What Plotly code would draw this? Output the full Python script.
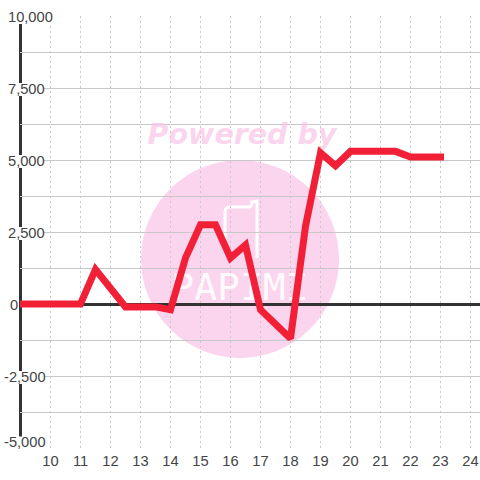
import plotly.graph_objects as go

x_values = [9, 9.5, 10, 10.5, 11, 11.5, 12, 12.5, 13, 13.5, 14, 14.5, 15, 15.5, 16, 16.5, 17, 17.5, 18, 18.5, 19, 19.5, 20, 20.5, 21, 21.5, 22, 22.5, 23]
y_values = [0, 0, 0, 0, 0, 1200, 500, -100, -100, -100, -200, 1600, 2750, 2750, 1600, 2050, -200, -700, -1200, 2700, 5250, 4800, 5300, 5300, 5300, 5300, 5100, 5100, 5100]
x_ticks = list(range(10, 25))
y_major = [-5000, -2500, 0, 2500, 5000, 7500, 10000]
y_labels = ["-5,000", "-2,500", "0", "2,500", "5,000", "7,500", "10,000"]

W = H = 480
L, R, T, B = 20, 0, 16, 32
XMIN = 9 - 0.5 / 30
XMAX = XMIN + (W - L - R) / 30
YMIN, YMAX = -5000, 10000
PX = 15000 / 432

def px_x(p):
    return XMIN + (p - L) / 30
def px_y(p):
    return YMAX - (p - T) * PX
def paper_x(p):
    return (p - L) / (W - L - R)

DARK = "#333333"
GRID = "#c8c8c8"
PINK = "#fbd5ee"

fig = go.Figure()

# watermark text behind the line
fig.add_trace(go.Scatter(x=[px_x(242)], y=[px_y(137)], mode="text", text=["Powered by"],
                         textfont=dict(family="DejaVu Sans", size=28.5, color="rgba(248,195,230,0.7)", weight="bold", style="italic"),
                         hoverinfo="skip", showlegend=False, cliponaxis=False))
fig.add_trace(go.Scatter(x=[px_x(240)], y=[px_y(290)], mode="text", text=["PAPIMI"],
                         textfont=dict(family="DejaVu Sans Mono", size=38, color="rgba(255,255,255,0.9)"),
                         hoverinfo="skip", showlegend=False))
fig.add_trace(go.Scatter(x=x_values, y=y_values, mode="lines",
                         line=dict(color="#f22036", width=7, shape="linear"),
                         hoverinfo="skip", showlegend=False, cliponaxis=False))

path = f"M {px_x(225)} {px_y(240)} L {px_x(225)} {px_y(212)} Q {px_x(225)} {px_y(207)} {px_x(230)} {px_y(207)} L {px_x(249)} {px_y(207)} Q {px_x(252)} {px_y(207)} {px_x(252)} {px_y(202)} L {px_x(257)} {px_y(201)} L {px_x(257)} {px_y(258)}"
shapes = [
    dict(type="circle", xref="x", yref="y", x0=px_x(141), x1=px_x(339), y0=px_y(358), y1=px_y(160),
         fillcolor=PINK, line=dict(width=0), layer="below"),
    dict(type="path", xref="x", yref="y", path=path, line=dict(color="white", width=3), layer="below"),
    dict(type="line", xref="paper", yref="paper", x0=paper_x(20.5), x1=paper_x(20.5), y0=0, y1=1,
         line=dict(color=DARK, width=3), layer="below"),
]
mask_right = {"-5,000": 46, "-2,500": 44, "2,500": 44, "5,000": 44, "7,500": 44, "10,000": 53}
for v, lab in zip(y_major, y_labels):
    if lab in mask_right:
        up = 11.5 if lab == "-5,000" else 5
        shapes.append(dict(type="rect", xref="paper", yref="y", x0=paper_x(0), x1=paper_x(mask_right[lab]),
                           y0=v - 8 * PX, y1=v + up * PX,
                           fillcolor="white", line=dict(width=0), layer="above"))

annotations = []
for v, lab in zip(y_major, y_labels):
    left = 2 if lab.startswith("-") else (8 if lab == "0" else 6)
    annotations.append(dict(x=paper_x(left), xref="paper", y=v, yref="y", text=lab, showarrow=False,
                            xanchor="left", yanchor="middle", yshift=6 if lab == "-5,000" else -1,
                            font=dict(family="Liberation Sans", size=14.67, color="#444444")))

fig.update_layout(
    width=W, height=H, autosize=False,
    margin=dict(l=L, r=R, t=T, b=B, pad=0),
    paper_bgcolor="white", plot_bgcolor="rgba(0,0,0,0)",
    shapes=shapes, annotations=annotations, showlegend=False,
    xaxis=dict(range=[XMIN, XMAX], tickvals=x_ticks, ticktext=[str(t) for t in x_ticks],
               showgrid=True, gridcolor=GRID, griddash="2px,3px", gridwidth=1, zeroline=False,
               ticks="", ticklabelstandoff=2,
               tickfont=dict(family="Liberation Sans", size=14.67, color="#444444"), showline=False),
    yaxis=dict(range=[YMIN, YMAX], tick0=-5000, dtick=1250, showticklabels=False,
               showgrid=True, gridcolor=GRID, gridwidth=1, ticks="",
               zeroline=True, zerolinecolor=DARK, zerolinewidth=3, showline=False),
)
fig.write_html(
    "out.html",
    config={"displayModeBar": False},
    post_script="document.body.style.margin='0';document.body.style.overflow='hidden';"
                "document.querySelectorAll('.cartesianlayer .plot, .scatterlayer, .scatterlayer .trace').forEach(function(g){"
                "g.removeAttribute('clip-path');g.style.clipPath='none';});"
                "document.querySelectorAll('.scatterlayer .js-line').forEach(function(p){"
                "p.style.strokeLinecap='square';p.style.strokeLinejoin='miter';});",
)
